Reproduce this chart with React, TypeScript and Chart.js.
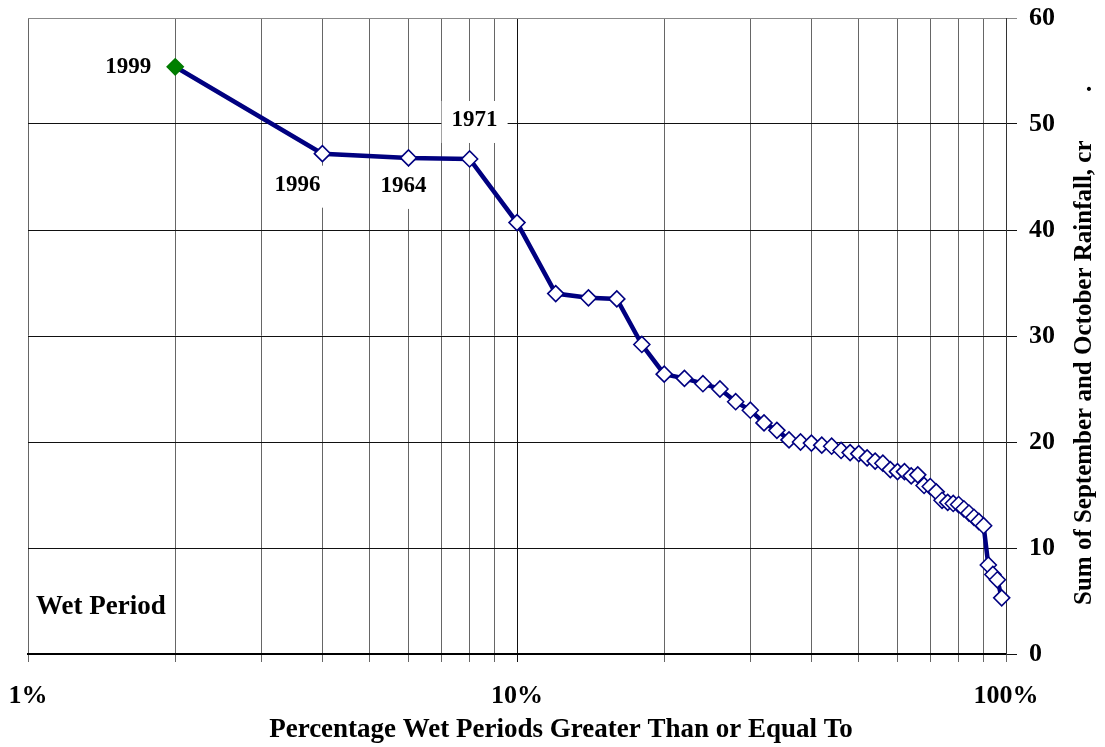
import React, { useEffect, useRef } from "react";
import { Chart, registerables } from "chart.js";

Chart.register(...registerables);

const SERIF = "'Liberation Serif', 'Times New Roman', serif";

// Exceedance percentage (plotting position) for each wet period
const exceedancePct = [
  2, 4, 6, 8, 10, 12, 14, 16, 18, 20, 22, 24, 26, 28, 30, 32, 34, 36, 38, 40,
  42, 44, 46, 48, 50, 52, 54, 56, 58, 60, 62, 64, 66, 68, 70, 72, 74, 76, 78,
  80, 82, 84, 86, 88, 90, 92, 94, 96, 98,
];

// Sum of September and October rainfall
const rainfall = [
  55.4, 47.2, 46.8, 46.7, 40.7, 34.0, 33.6, 33.5, 29.2, 26.4, 26.0, 25.5, 25.0,
  23.8, 23.0, 21.8, 21.1, 20.2, 20.0, 19.9, 19.7, 19.6, 19.2, 19.0, 18.9, 18.5,
  18.2, 18.0, 17.4, 17.2, 17.2, 16.8, 16.9, 15.9, 15.8, 15.3, 14.5, 14.3, 14.2,
  14.1, 13.7, 13.3, 12.9, 12.5, 12.1, 8.4, 7.5, 7.0, 5.3,
];

const xTickValues = [
  1, 2, 3, 4, 5, 6, 7, 8, 9, 10, 20, 30, 40, 50, 60, 70, 80, 90, 100,
];
const xTickLabelValues = [1, 10, 100];
const xTickLabels = ["1%", "10%", "100%"];
const yTickValues = [0, 10, 20, 30, 40, 50, 60];

const annotatedIndex = [0, 1, 2, 3];
const annotatedYears = ["1999", "1996", "1964", "1971"];

const xTitle = "Percentage Wet Periods Greater Than or Equal To";
const yTitle = "Sum of September and October Rainfall, cr";
const cornerNote = "Wet Period";

const overlay = {
  id: "overlay",
  beforeDatasetsDraw(chart: any) {
    const { ctx, scales } = chart;
    const x = scales.x;
    const y = scales.y;
    ctx.save();
    ctx.font = `bold 23px ${SERIF}`;
    ctx.textBaseline = "middle";
    const place = [
      { dx: -24, dy: 0, align: "right", box: false },
      { dx: -25, dy: 31, align: "center", box: true },
      { dx: -5, dy: 28, align: "center", box: true },
      { dx: 5, dy: -39, align: "center", box: true },
    ];
    annotatedIndex.forEach((idx, i) => {
      const p = place[i];
      const px = x.getPixelForValue(exceedancePct[idx]) + p.dx;
      const py = y.getPixelForValue(rainfall[idx]) + p.dy;
      const w = ctx.measureText(annotatedYears[i]).width;
      if (p.box) {
        ctx.fillStyle = "#ffffff";
        ctx.fillRect(px - w / 2 - 10, py - 19, w + 20, 42);
      }
      ctx.fillStyle = "#000000";
      ctx.textAlign = p.align;
      ctx.fillText(annotatedYears[i], px, py);
    });
    ctx.font = `bold 27px ${SERIF}`;
    ctx.textAlign = "left";
    ctx.fillText(cornerNote, x.left + 8, 607);
    ctx.restore();
  },
  afterDraw(chart: any) {
    const { ctx } = chart;
    ctx.save();
    ctx.font = `bold 27px ${SERIF}`;
    ctx.fillStyle = "#000000";
    ctx.textBaseline = "middle";
    ctx.textAlign = "center";
    ctx.fillText(xTitle, 561, 730);
    ctx.restore();

    ctx.save();
    ctx.font = `bold 25px ${SERIF}`;
    ctx.fillStyle = "#000000";
    ctx.textBaseline = "middle";
    ctx.textAlign = "left";
    ctx.translate(1085, 605);
    ctx.rotate(-Math.PI / 2);
    ctx.fillText(yTitle, 0, 0);
    ctx.restore();

    ctx.save();
    ctx.font = `bold 25px ${SERIF}`;
    ctx.fillStyle = "#000000";
    ctx.textBaseline = "middle";
    ctx.textAlign = "left";
    ctx.translate(1085, 92);
    ctx.rotate(-Math.PI / 2);
    ctx.fillText(".", 0, 0);
    ctx.restore();
  },
};

export default function App() {
  const canvasRef = useRef<HTMLCanvasElement | null>(null);

  useEffect(() => {
    const canvas = canvasRef.current;
    if (!canvas) return;
    const points = exceedancePct.map((v, i) => ({ x: v, y: rainfall[i] }));
    const chart = new Chart(canvas, {
      type: "line",
      data: {
        datasets: [
          {
            data: points,
            borderColor: "#000080",
            borderWidth: 4.5,
            pointStyle: "rectRot",
            pointRadius: 8,
            pointBorderWidth: 1.6,
            pointBorderColor: points.map((_, i) => (i === 0 ? "#007a00" : "#000080")),
            pointBackgroundColor: points.map((_, i) => (i === 0 ? "#008000" : "#ffffff")),
            tension: 0,
            clip: false as any,
          },
        ],
      },
      options: {
        responsive: false,
        animation: false,
        devicePixelRatio: 1,
        layout: { padding: { left: 28, top: 18, right: 0, bottom: 0 } },
        plugins: {
          legend: { display: false },
          tooltip: { enabled: false },
        },
        scales: {
          x: {
            type: "logarithmic",
            min: 1,
            max: 100,
            afterBuildTicks: (scale: any) => {
              scale.ticks = xTickValues.map((v) => ({ value: v }));
            },
            afterFit: (scale: any) => {
              scale.height = 93;
              scale.paddingLeft = 0;
              scale.paddingRight = 0;
            },
            ticks: {
              autoSkip: false,
              maxRotation: 0,
              minRotation: 0,
              padding: 19,
              color: "#000000",
              font: { family: SERIF, size: 26, weight: "bold" },
              callback: (value: any) => {
                const k = xTickLabelValues.indexOf(Number(value));
                return k >= 0 ? xTickLabels[k] : "";
              },
            },
            grid: {
              color: (c: any) => (c.tick && c.tick.value === 10 ? "#111111" : "#666666"),
              lineWidth: 1,
              tickLength: 8,
              drawTicks: true,
            },
            border: { display: true, color: "#000000", width: 2 },
            title: { display: false },
          },
          y: {
            type: "linear",
            position: "right",
            min: 0,
            max: 60,
            afterBuildTicks: (scale: any) => {
              scale.ticks = yTickValues.map((v) => ({ value: v }));
            },
            afterFit: (scale: any) => {
              scale.width = 99;
              scale.paddingTop = 0;
              scale.paddingBottom = 0;
            },
            ticks: {
              padding: 12,
              color: "#000000",
              font: { family: SERIF, size: 26, weight: "bold" },
            },
            grid: {
              color: (c: any) => (c.tick && c.tick.value === 60 ? "#888888" : "#111111"),
              lineWidth: 1,
              tickLength: 11,
            },
            border: { display: true, color: "#333333", width: 1 },
          },
        },
      },
      plugins: [overlay],
    });
    return () => chart.destroy();
  }, []);

  return (
    <div style={{ position: "fixed", left: 0, top: 0, width: 1105, height: 747, background: "#ffffff" }}>
      <canvas ref={canvasRef} width={1105} height={747} style={{ display: "block" }} />
    </div>
  );
}
